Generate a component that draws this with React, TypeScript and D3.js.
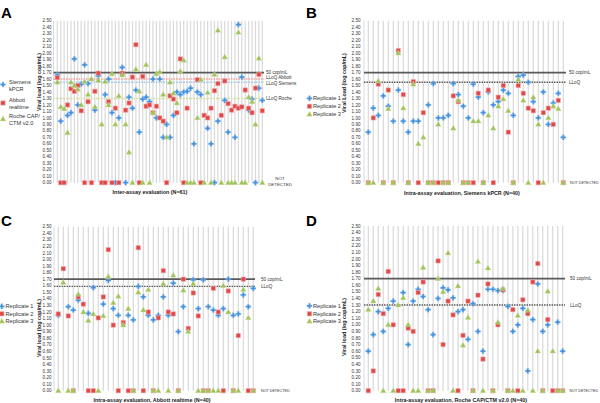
import React from "react";
import * as d3 from "d3";

// ---------- DATA ----------
const tickValues = d3.range(0, 26).map((i) => i / 10);

// Panel A: inter-assay (N=61)
const aSiemens: (number | null)[] = [1.66,0.95,null,1.04,1.08,1.91,1.20,1.52,1.82,1.53,null,1.12,1.65,null,1.36,1.60,1.08,0,1.00,1.78,0,1.32,1.15,1.43,0.78,1.29,1.32,1.25,1.60,1.00,1.60,0.70,0.90,0.70,1.04,1.40,1.36,1.40,1.41,1.46,0.60,1.40,1.36,null,0.84,0.60,0,0.95,null,1.27,0.78,null,0.70,2.44,1.63,null,1.12,1.29,0,1.46,1.27];
const aAbbott: (number | null)[] = [1.62,0,0,1.20,1.45,1.41,1.50,1.11,0,1.25,0,1.41,1.69,0,0,1.25,0,1.15,0,1.69,1.12,1.23,1.63,2.13,0,1.64,1.18,1.20,1.08,1.18,1.00,0.95,0,1.34,1.29,1.08,1.91,0,1.15,null,null,1.59,0,1.04,1.00,1.15,1.42,1.53,1.04,1.57,1.22,1.12,1.18,1.15,1.17,1.43,1.15,1.08,1.46,1.67,1.11];
const aRoche: (number | null)[] = [1.55,1.17,1.14,0.77,1.55,1.50,1.44,1.20,1.56,1.36,1.60,1.17,1.58,0.90,1.56,1.20,1.68,0.90,1.34,1.66,0.90,0.47,0,1.75,1.41,0,1.82,0,1.08,1.68,1.71,1.36,0.70,1.55,1.38,1.23,1.72,1.89,0,0,0,1.00,1.59,0,1.39,0,1.67,2.35,0,1.94,0,0,0,2.32,0,0,1.32,1.25,0.90,1.92,0];

// Panel B: intra-assay Siemens kPCR (N=40)
const bRep1: (number | null)[] = [0.78,1.15,1.04,1.34,1.18,0.95,1.43,0.95,0.78,0.95,0.95,null,1.20,1.53,1.00,1.00,1.04,1.53,1.36,1.18,1.00,1.52,1.32,1.08,1.40,1.20,1.25,1.43,1.38,1.04,1.64,1.66,1.55,1.25,1.00,1.40,0.90,1.23,1.38,0.70];
const bRep2: (number | null)[] = [0,1.00,1.52,0,1.43,0,2.04,1.36,0,1.56,0,1.08,0,0,0,0,0,1.34,1.25,0,0,0,1.38,0,1.43,0,1.32,1.50,0.78,0,1.50,1.38,1.15,1.11,0,1.08,1.15,0.90,1.27,0];
const bRep3: (number | null)[] = [0,0,1.57,0,1.14,0,2.00,1.15,0,1.52,0.60,0.70,0,0,0.90,0,0,0.84,1.27,0,0,0.95,0.95,0,1.04,0.84,1.18,1.29,1.11,0,1.59,1.27,0,1.32,0.90,0,1.00,1.18,1.14,0];

// Panel C: intra-assay Abbott realtime (N=40)
const cRep1: (number | null)[] = [1.15,null,1.28,1.23,1.38,null,1.18,1.57,null,1.32,1.68,1.25,1.15,null,1.15,1.08,1.59,1.43,1.15,1.08,1.15,1.43,1.15,1.64,0.90,1.28,null,1.69,1.25,1.69,1.28,1.23,1.15,1.25,1.70,1.15,1.17,1.46,1.28,1.56];
const cRep2: (number | null)[] = [1.17,1.86,1.14,0,1.43,1.32,0,0,1.11,1.43,2.15,1.00,0,1.04,0,0,2.18,0,1.20,0,1.11,1.83,1.20,1.17,0,1.70,0.95,1.49,1.14,0,0,1.56,1.20,0,1.52,0,0.84,1.70,0,0];
const cRep3: (number | null)[] = [0,1.65,0,0,1.47,1.20,1.07,1.17,0,1.14,1.74,1.34,1.44,1.00,1.25,0,1.50,1.23,1.54,0,0,1.63,0,1.76,0,1.53,0.90,1.63,0,0,0,0,0,1.60,1.20,0,0,1.54,1.11,0];

// Panel D: intra-assay Roche CAP/CTM v2.0 (N=40)
const dRep1: (number | null)[] = [0.60,0.85,1.20,0.90,1.25,1.36,null,1.49,0.70,1.36,1.54,1.43,1.23,0.85,1.40,1.56,1.53,1.41,1.20,1.23,0.78,1.32,0.90,0.60,1.54,1.54,1.52,1.52,1.28,0.90,1.00,1.25,0.30,1.08,1.62,0.90,1.00,null,1.04,0.60];
const dRep2: (number | null)[] = [0,0.30,1.46,1.17,1.81,1.00,0,0,0.95,0.90,1.49,1.65,0,0,1.97,0.70,1.36,1.15,0,0.84,1.36,0,1.45,0.48,1.62,0,1.00,1.53,0,1.23,0,1.38,1.17,1.65,1.93,0,1.08,0,0,0];
const dRep3: (number | null)[] = [1.23,1.36,1.55,0,1.00,0,1.30,1.41,1.00,0,0,1.87,0,0,1.70,1.50,2.09,0,1.59,0.69,1.11,0,1.96,0,1.86,0,1.04,1.55,0,0,1.14,0,1.22,0,0.60,0,1.51,0.60,0,0];

const legendA = ["Siemens|kPCR", "Abbott|realtime", "Roche CAP/|CTM v2.0"];
const legendRep = ["Replicate 1", "Replicate 2", "Replicate 3"];

// ---------- STYLE ----------
const FONT = "'Liberation Sans', Arial, Helvetica, sans-serif";
const BLUE = "#3f8fdf";
const RED = "#e04848";
const GREEN = "#a0c25a";
const GRID = "#d9d9d9";
const kinds = ["plus", "square", "triangle"] as const;

function Marker({ kind, x, y }: { kind: string; x: number; y: number }) {
  if (kind === "plus") {
    const p = d3.symbol().type(d3.symbolCross).size(15)();
    return <path d={p || ""} transform={`translate(${x},${y})`} fill={BLUE} stroke="#9cc4ee" strokeWidth={0.4} />;
  }
  if (kind === "square") {
    const p = d3.symbol().type(d3.symbolSquare).size(19)();
    return <path d={p || ""} transform={`translate(${x},${y})`} fill={RED} stroke="#f4b0b0" strokeWidth={0.6} />;
  }
  const p = d3.symbol().type(d3.symbolTriangle).size(14)();
  return <path d={p || ""} transform={`translate(${x},${y + 0.3})`} fill={GREEN} stroke="#d3e3a8" strokeWidth={0.4} />;
}

type RefLine = { v: number; color: string; dashed: boolean; width: number; label: string; labelDy?: number };
type LegendItem = { lines: string[]; x: number; y: number };

type PanelProps = {
  letter: string;
  letterX: number;
  letterY: number;
  series: (number | null)[][];
  xRange: [number, number];
  plotLeft: number;
  plotRight: number;
  yRange: [number, number];
  tickRight: number;
  yTitle: string;
  yTitleX: number;
  yTitleY: number;
  xTitle: string;
  xTitleX: number;
  xTitleY: number;
  refs: RefLine[];
  refLabelX: number;
  notDetected: React.ReactNode;
  legend: LegendItem[];
  legendMarkerX: number;
  legendTextX: number;
};

function Panel(p: PanelProps) {
  const n = p.series[0].length;
  const x = d3.scalePoint<number>().domain(d3.range(n)).range(p.xRange);
  const y = d3.scaleLinear().domain([0, 2.5]).range(p.yRange);
  const fmt = d3.format(".2f");
  return (
    <g>
      <text x={p.letterX} y={p.letterY} fontFamily={FONT} fontWeight="bold" fontSize={15}>{p.letter}</text>
      {/* vertical grid */}
      <line x1={p.plotLeft} x2={p.plotLeft} y1={y(2.5)} y2={y(0)} stroke={GRID} strokeWidth={1} />
      {d3.range(n).map((i) => (
        <line key={i} x1={x(i)} x2={x(i)} y1={y(2.5)} y2={y(0)} stroke={GRID} strokeWidth={1.2} />
      ))}
      {/* y ticks */}
      {tickValues.map((t) => (
        <text key={t} x={p.tickRight} y={y(t) + 1.6} textAnchor="end" fontFamily={FONT} fontSize={4.6} fill="#333">{fmt(t)}</text>
      ))}
      {/* reference lines */}
      {p.refs.map((r, i) => (
        <g key={i}>
          <line x1={p.plotLeft} x2={p.plotRight} y1={y(r.v)} y2={y(r.v)} stroke={r.color} strokeWidth={r.width}
            strokeDasharray={r.dashed ? "1.5,1" : undefined} />
          <text x={p.refLabelX} y={y(r.v) + 1.6 + (r.labelDy || 0)} fontFamily={FONT} fontSize={4.6} fill="#333">{r.label}</text>
        </g>
      ))}
      {/* points */}
      {p.series.map((s, si) =>
        s.map((v, i) => (v === null ? null : <Marker key={`${si}-${i}`} kind={kinds[si]} x={x(i) as number} y={y(v)} />))
      )}
      {p.notDetected}
      {/* titles */}
      <text transform={`translate(${p.yTitleX},${p.yTitleY}) rotate(-90)`} textAnchor="middle" fontFamily={FONT} fontWeight="bold" fontSize={5.4} fill="#222">{p.yTitle}</text>
      <text x={p.xTitleX} y={p.xTitleY} textAnchor="middle" fontFamily={FONT} fontWeight="bold" fontSize={5.4} fill="#222">{p.xTitle}</text>
      {/* legend */}
      {p.legend.map((l, i) => (
        <g key={i}>
          <Marker kind={kinds[i]} x={p.legendMarkerX} y={l.y - (l.lines.length > 1 ? -1 : 1.7)} />
          {l.lines.map((t, j) => (
            <text key={j} x={p.legendTextX} y={l.y + j * 7} fontFamily={FONT} fontSize={5.6} fill="#333">{t}</text>
          ))}
        </g>
      ))}
    </g>
  );
}

export default function App() {
  const dark = "#5a5a5a";
  const nd = { fontFamily: FONT, fontSize: 4.4, fill: "#333" };
  const ndSmall = { fontFamily: FONT, fontSize: 3.7, fill: "#333" };
  return (
    <svg width={600} height={403} style={{ position: "absolute", left: 0, top: 0, background: "#fff" }}>
      <rect width={600} height={403} fill="#fff" />
      <Panel
        letter="A" letterX={1} letterY={18}
        series={[aSiemens, aAbbott, aRoche]}
        xRange={[57.3, 262.3]} plotLeft={53.5} plotRight={264} yRange={[182.7, 20.7]} tickRight={51.5}
        yTitle="Viral load (log cop/mL)" yTitleX={41} yTitleY={82}
        xTitle="Inter-assay evaluation (N=61)" xTitleX={150} xTitleY={194}
        refs={[
          { v: 1.7, color: dark, dashed: false, width: 1.8, label: "50 cop/mL", labelDy: -0.6 },
          { v: 1.6, color: "#f2a3a0", dashed: true, width: 1.6, label: "LLoQ Abbott", labelDy: -1.4 },
          { v: 1.55, color: "#a6c8ea", dashed: true, width: 1.6, label: "LLoQ Siemens", labelDy: 1.2 },
          { v: 1.3, color: "#d3df96", dashed: true, width: 1.6, label: "LLoQ Roche" },
        ]}
        refLabelX={266}
        notDetected={
          <g {...nd} textAnchor="middle">
            <text x={280} y={180}>NOT</text>
            <text x={280} y={185.5}>DETECTED</text>
          </g>
        }
        legend={[
          { lines: legendA[0].split("|"), x: 9, y: 83.5 },
          { lines: legendA[1].split("|"), x: 9, y: 102 },
          { lines: legendA[2].split("|"), x: 9, y: 118 },
        ]}
        legendMarkerX={3} legendTextX={9}
      />
      <Panel
        letter="B" letterX={306} letterY={18}
        series={[bRep1, bRep2, bRep3]}
        xRange={[368.3, 563.3]} plotLeft={364} plotRight={566} yRange={[182.7, 20.7]} tickRight={360.5}
        yTitle="Viral Load (log cop/mL)" yTitleX={346} yTitleY={83}
        xTitle="Intra-assay evaluation, Siemens kPCR (N=40)" xTitleX={462} xTitleY={195}
        refs={[
          { v: 1.7, color: dark, dashed: false, width: 1.8, label: "50 cop/mL" },
          { v: 1.55, color: dark, dashed: true, width: 1.4, label: "LLoQ" },
        ]}
        refLabelX={569}
        notDetected={<text x={570} y={184.3} {...ndSmall}>NOT DETECTED</text>}
        legend={[
          { lines: [legendRep[0]], x: 313, y: 100 },
          { lines: [legendRep[1]], x: 313, y: 108 },
          { lines: [legendRep[2]], x: 313, y: 116 },
        ]}
        legendMarkerX={309.5} legendTextX={313}
      />
      <Panel
        letter="C" letterX={1} letterY={226}
        series={[cRep1, cRep2, cRep3]}
        xRange={[58.3, 253.3]} plotLeft={54} plotRight={255} yRange={[390.7, 226.7]} tickRight={51.5}
        yTitle="Viral load (log cop/mL)" yTitleX={41} yTitleY={328}
        xTitle="Intra-assay evaluation, Abbott realtime (N=40)" xTitleX={152} xTitleY={402}
        refs={[
          { v: 1.7, color: dark, dashed: false, width: 1.8, label: "50 cop/mL" },
          { v: 1.59, color: dark, dashed: true, width: 1.4, label: "LLoQ" },
        ]}
        refLabelX={261}
        notDetected={<text x={261} y={392.3} {...ndSmall}>NOT DETECTED</text>}
        legend={[
          { lines: [legendRep[0]], x: 5, y: 308 },
          { lines: [legendRep[1]], x: 5, y: 315.5 },
          { lines: [legendRep[2]], x: 5, y: 323 },
        ]}
        legendMarkerX={1.8} legendTextX={5.5}
      />
      <Panel
        letter="D" letterX={306} letterY={226}
        series={[dRep1, dRep2, dRep3]}
        xRange={[368.3, 562.7]} plotLeft={364} plotRight={565} yRange={[390.7, 226]} tickRight={360.5}
        yTitle="Viral load (log cop/mL)" yTitleX={346} yTitleY={327}
        xTitle="Intra-assay evaluation, Roche CAP/CTM v2.0 (N=40)" xTitleX={461} xTitleY={402}
        refs={[
          { v: 1.7, color: dark, dashed: false, width: 1.8, label: "50 cop/mL" },
          { v: 1.3, color: dark, dashed: true, width: 1.4, label: "LLoQ" },
        ]}
        refLabelX={570}
        notDetected={<text x={569.5} y={392.3} {...ndSmall}>NOT DETECTED</text>}
        legend={[
          { lines: [legendRep[0]], x: 313, y: 307.5 },
          { lines: [legendRep[1]], x: 313, y: 315.5 },
          { lines: [legendRep[2]], x: 313, y: 323 },
        ]}
        legendMarkerX={309.5} legendTextX={313}
      />
    </svg>
  );
}
